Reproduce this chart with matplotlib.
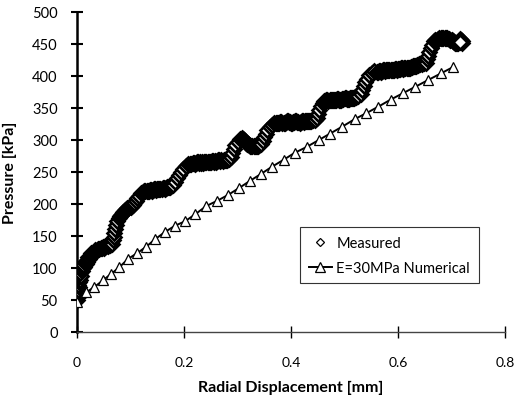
"""Pressure vs radial displacement: measured data and E=30MPa numerical model."""

import matplotlib
matplotlib.use("Agg")
import matplotlib.pyplot as plt

plt.rcParams['font.family'] = ['Lato', 'DejaVu Sans']

# measured curve (segment by segment)
meas_d = [
    # first steep rise
    0.000, 0.001, 0.000, 0.002, 0.001, 0.003, 0.002, 0.004, 0.005, 0.004,
    0.007, 0.006, 0.009, 0.008, 0.011, 0.013, 0.012, 0.016, 0.015, 0.019,
    0.018, 0.022, 0.021, 0.025, 0.028, 0.027, 0.031, 0.034, 0.033, 0.037,
    # plateau ~135
    0.040, 0.042, 0.044, 0.046, 0.048, 0.050, 0.052, 0.054, 0.056, 0.058,
    0.060, 0.062, 0.064, 0.066,
    # step to ~190
    0.068, 0.069, 0.070, 0.071, 0.073, 0.075, 0.078,
    0.080, 0.082, 0.084, 0.086, 0.088, 0.090, 0.092, 0.094, 0.096, 0.098,
    0.100, 0.102, 0.104, 0.106,
    # step to ~220
    0.110, 0.113, 0.116, 0.120,
    0.124, 0.126, 0.128, 0.130, 0.132, 0.134, 0.136, 0.138, 0.140, 0.142,
    0.144, 0.146, 0.148, 0.150, 0.152, 0.154, 0.156, 0.158, 0.160, 0.162,
    0.164, 0.166, 0.168, 0.170, 0.172, 0.174, 0.176,
    # step to ~265
    0.180, 0.183, 0.186, 0.190, 0.194, 0.198, 0.203, 0.208,
    0.212, 0.214, 0.216, 0.218, 0.220, 0.222, 0.224, 0.226, 0.228, 0.230,
    0.232, 0.234, 0.236, 0.238, 0.240, 0.242, 0.244, 0.246, 0.248, 0.250,
    0.252, 0.254, 0.256, 0.258, 0.260, 0.262, 0.264, 0.266, 0.268, 0.270,
    0.272, 0.274, 0.276, 0.278, 0.280, 0.282, 0.284,
    # step to ~300 and dip
    0.287, 0.290, 0.293, 0.296, 0.300, 0.304, 0.308,
    0.310, 0.312, 0.314, 0.316, 0.318, 0.320, 0.322, 0.324, 0.326, 0.328,
    0.330, 0.332, 0.334, 0.336, 0.338, 0.340, 0.342, 0.344,
    # step to ~328
    0.347, 0.350, 0.353, 0.356, 0.360, 0.364, 0.368,
    0.372, 0.374, 0.376, 0.378, 0.380, 0.382, 0.384, 0.386, 0.388, 0.390,
    0.392, 0.394, 0.396, 0.398, 0.400, 0.402, 0.404, 0.406, 0.408, 0.410,
    0.412, 0.414, 0.416, 0.418, 0.420, 0.422, 0.424, 0.426, 0.428, 0.430,
    0.432, 0.434, 0.436, 0.438, 0.440, 0.442, 0.444,
    # step to ~363
    0.449, 0.451, 0.453, 0.456, 0.459,
    0.462, 0.464, 0.466, 0.468, 0.470, 0.472, 0.474, 0.476, 0.478, 0.480,
    0.482, 0.484, 0.486, 0.488, 0.490, 0.492, 0.494, 0.496, 0.498, 0.500,
    0.502, 0.504, 0.506, 0.508, 0.510, 0.512, 0.514, 0.516, 0.518, 0.520,
    0.522, 0.524, 0.526,
    # step to ~410
    0.530, 0.533, 0.536, 0.539, 0.542, 0.546, 0.551, 0.556,
    0.560, 0.562, 0.564, 0.566, 0.568, 0.570, 0.572, 0.574, 0.576, 0.578,
    0.580, 0.582, 0.584, 0.586, 0.588, 0.590, 0.592, 0.594, 0.596, 0.598,
    0.600, 0.602, 0.604, 0.606, 0.608, 0.610, 0.612, 0.614, 0.616, 0.618,
    0.620, 0.622, 0.624, 0.626, 0.628, 0.630, 0.632, 0.634, 0.636, 0.638,
    0.640, 0.642, 0.644,
    # last step and top
    0.648, 0.652, 0.654, 0.656, 0.658, 0.661, 0.664, 0.668,
    0.670, 0.672, 0.675, 0.677, 0.680, 0.682, 0.685, 0.687, 0.690, 0.692,
    0.695, 0.697, 0.700, 0.702, 0.704, 0.706, 0.708, 0.710, 0.712, 0.714,
    0.720, 0.716, 0.719, 0.717, 0.718, 0.716,
]
meas_p = [
    50, 54, 58, 62, 66, 70, 74, 78, 82, 86,
    88, 92, 95, 98, 100, 102, 105, 107, 110, 110,
    113, 114, 117, 118, 120, 123, 124, 126, 128, 128,
    129, 130, 131, 131, 133, 132, 134, 134, 136, 135,
    137, 136, 138, 138,
    143, 149, 155, 161, 167, 173, 178,
    181, 183, 184, 187, 187, 190, 191, 193, 193, 195,
    196, 198, 199, 201,
    205, 209, 213, 217,
    219, 220, 221, 221, 220, 221, 222, 222, 221, 222,
    223, 223, 222, 223, 224, 224, 223, 224, 225, 225,
    224, 225, 226, 226, 226, 227, 228,
    230, 235, 240, 245, 250, 255, 259, 262,
    262, 263, 264, 264, 263, 264, 265, 265, 264, 265,
    264, 265, 264, 265, 266, 266, 265, 266, 265, 266,
    267, 267, 266, 267, 266, 267, 268, 268, 267, 268,
    267, 268, 269, 269, 268, 270, 271,
    274, 280, 286, 292, 297, 301, 303,
    301, 300, 298, 296, 294, 293, 292, 291, 291, 290,
    290, 290, 290, 291, 291, 292, 293, 294,
    298, 304, 310, 315, 320, 324, 326,
    327, 327, 326, 327, 328, 328, 327, 327, 327, 328,
    329, 329, 328, 328, 327, 327, 328, 328, 329, 329,
    328, 328, 327, 328, 329, 329, 328, 329, 329, 330,
    330, 329, 330, 330, 331, 331, 332,
    335, 341, 347, 353, 358,
    361, 361, 362, 362, 361, 362, 363, 363, 362, 362,
    362, 363, 364, 364, 363, 363, 363, 364, 364, 365,
    365, 364, 364, 364, 365, 366, 366, 365, 366, 367,
    367, 368, 369,
    372, 378, 384, 390, 396, 401, 405, 408,
    407, 407, 408, 408, 407, 408, 409, 409, 408, 409,
    409, 410, 410, 409, 410, 410, 410, 411, 411, 410,
    411, 411, 411, 412, 412, 411, 412, 412, 413, 413,
    412, 413, 414, 414, 415, 415, 416, 416, 417, 417,
    418, 418, 419,
    420, 421, 426, 432, 438, 444, 449, 454,
    456, 457, 458, 459, 460, 460, 460, 460, 459, 459,
    458, 457, 456, 455, 453, 452, 451, 451, 452, 454,
    455, 458, 452, 456, 454, 453,
]

# numerical model, E = 30 MPa
num_d = [0.000, 0.017, 0.032, 0.049, 0.064, 0.079, 0.095, 0.112, 0.129, 0.146,
         0.164, 0.183, 0.202, 0.221, 0.242, 0.262, 0.282, 0.303, 0.323, 0.344,
         0.364, 0.386, 0.407, 0.429, 0.452, 0.473, 0.496, 0.520, 0.541, 0.563,
         0.586, 0.609, 0.632, 0.657, 0.680, 0.703]
num_p = [47, 62, 70, 81, 91, 101, 114, 123, 133, 145,
         156, 166, 173, 184, 197, 205, 214, 225, 236, 247,
         258, 269, 280, 289, 300, 310, 321, 333, 342, 352,
         363, 373, 383, 394, 404, 414]

x_ticks = [0, 0.2, 0.4, 0.6, 0.8]
x_labels = ['0', '0.2', '0.4', '0.6', '0.8']
y_ticks = [0, 50, 100, 150, 200, 250, 300, 350, 400, 450, 500]

fig = plt.figure(figsize=(5.15, 4.02), dpi=100)
ax = fig.add_axes([77 / 515, 1 - 333 / 402, 428 / 515, 320 / 402])

ax.plot(meas_d, meas_p, linestyle='none', marker='D', markersize=6.8,
        markerfacecolor='white', markeredgecolor='black', markeredgewidth=1.9,
        label='Measured', zorder=3)
ax.plot(num_d, num_p, color='black', linewidth=1.4, marker='^', markersize=7,
        markerfacecolor='white', markeredgecolor='black', markeredgewidth=0.9,
        label='E=30MPa Numerical', zorder=4)

ax.set_xlim(0, 0.8)
ax.set_ylim(0, 500)
ax.set_xticks(x_ticks)
ax.set_xticklabels(x_labels)
ax.set_yticks(y_ticks)

for s in ['top', 'right']:
    ax.spines[s].set_visible(False)
ax.spines['left'].set_linewidth(1.8)
ax.spines['bottom'].set_linewidth(1.0)
ax.spines['bottom'].set_color('#444444')

ax.tick_params(axis='y', direction='inout', length=8, width=1.5, pad=10,
               labelsize=10.5)
ax.tick_params(axis='x', direction='inout', length=8, width=1.0, pad=13,
               labelsize=10)

ax.set_xlabel('Radial Displacement [mm]', fontsize=11.5, fontweight='bold',
              labelpad=9)
ax.set_ylabel('Pressure [kPa]', fontsize=11.5, fontweight='bold', labelpad=11)

leg = ax.legend(loc='upper left', bbox_to_anchor=(300 / 515, 1 - 228 / 402),
                bbox_transform=fig.transFigure, borderaxespad=0, fancybox=False,
                framealpha=1, edgecolor='#333333', fontsize=10.5,
                handlelength=1.6, handletextpad=0.3, borderpad=0.6,
                labelspacing=0.75)
leg.get_frame().set_linewidth(0.8)
# legend diamond is drawn smaller and thinner than the plotted ones
leg.legend_handles[0].set_markersize(4.5)
leg.legend_handles[0].set_markeredgewidth(0.9)

fig.savefig('out.png', dpi=100)
